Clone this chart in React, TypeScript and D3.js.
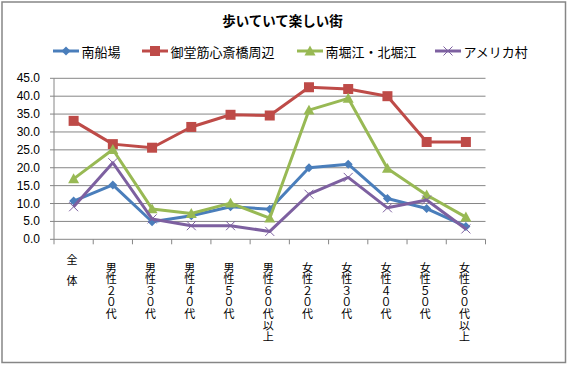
import React from "react";
import * as d3 from "d3";

const categories = ["全体", "男性２０代", "男性３０代", "男性４０代", "男性５０代", "男性６０代以上", "女性２０代", "女性３０代", "女性４０代", "女性５０代", "女性６０代以上"];
const seriesNames = ["南船場", "御堂筋心斎橋周辺", "南堀江・北堀江", "アメリカ村"];
const minamisenba = [10.7, 15.2, 4.9, 6.6, 9.1, 8.4, 20.0, 21.0, 11.4, 8.6, 3.6];
const midosuji = [33.1, 26.6, 25.6, 31.4, 34.8, 34.6, 42.5, 42.0, 40.0, 27.2, 27.2];
const horie = [16.9, 25.1, 8.5, 7.2, 10.1, 5.9, 36.1, 39.4, 19.8, 12.4, 6.2];
const americamura = [9.1, 21.4, 5.7, 3.8, 3.8, 2.2, 12.6, 17.3, 8.8, 11.0, 2.9];
const yTicks = [0, 5, 10, 15, 20, 25, 30, 35, 40, 45];
const colors = ["#4A7EBB", "#BE4B48", "#98B954", "#7D60A0"];
const markers = ["diamond", "square", "triangle", "cross"];

const W = 568, H = 365;
const plot = { left: 54, right: 485.5, top: 78.3, bottom: 239.3 };

function Marker({ type, x, y, color }: { type: string; x: number; y: number; color: string }) {
  if (type === "diamond") {
    const s = 4.5;
    return <path d={`M${x},${y - s}L${x + s},${y}L${x},${y + s}L${x - s},${y}Z`} fill={color} />;
  }
  if (type === "square") {
    const s = 5;
    return <rect x={x - s} y={y - s} width={2 * s} height={2 * s} fill={color} />;
  }
  if (type === "triangle") {
    const s = 5.5;
    return <path d={`M${x},${y - s}L${x + s},${y + s * 0.8}L${x - s},${y + s * 0.8}Z`} fill={color} />;
  }
  const s = 4.5;
  return <path d={`M${x - s},${y - s}L${x + s},${y + s}M${x + s},${y - s}L${x - s},${y + s}`} stroke={color} strokeWidth={1} fill="none" />;
}

export default function App() {
  const data = [minamisenba, midosuji, horie, americamura];
  const x = d3.scaleBand<string>().domain(categories).range([plot.left, plot.right]).padding(0);
  const y = d3.scaleLinear().domain([0, 45]).range([plot.bottom, plot.top]);
  const cx = (c: string) => (x(c) as number) + x.bandwidth() / 2;
  const line = d3.line<number>().x((_, i) => cx(categories[i])).y((d) => y(d));
  const boundaries = d3.range(categories.length + 1).map((i) => plot.left + i * x.bandwidth());

  const legendLine = [53, 142, 297, 435];
  const font = "'Noto Sans CJK JP', sans-serif";

  return (
    <div style={{ position: "absolute", left: 0, top: 0 }}>
      <svg width={W} height={H} style={{ display: "block" }}>
        <rect x={0} y={0} width={W} height={H} fill="#fff" />
        <rect x={2} y={2} width={563.5} height={360.5} fill="none" stroke="#868686" strokeWidth={1.5} />
        <text x={282.5} y={20} textAnchor="middle" dominantBaseline="central" fontFamily={font} fontWeight="bold" fontSize={13.5}>
          歩いていて楽しい街
        </text>
        {seriesNames.map((n, i) => (
          <g key={n}>
            <line x1={legendLine[i]} x2={legendLine[i] + 26} y1={51} y2={51} stroke={colors[i]} strokeWidth={3} />
            <Marker type={markers[i]} x={legendLine[i] + 13} y={51} color={colors[i]} />
            <text x={legendLine[i] + 28.5} y={51} dominantBaseline="central" fontFamily={font} fontSize={13}>
              {n}
            </text>
          </g>
        ))}
        {yTicks.map((t) => (
          <g key={t}>
            {t > 0 && <line x1={plot.left} x2={plot.right} y1={y(t)} y2={y(t)} stroke="#868686" strokeWidth={1} />}
            <line x1={plot.left - 4} x2={plot.left} y1={y(t)} y2={y(t)} stroke="#868686" strokeWidth={1} />
            <text x={40} y={y(t)} textAnchor="end" dominantBaseline="central" fontFamily="'Liberation Sans', Arial, sans-serif" fontSize={12}>
              {t.toFixed(1)}
            </text>
          </g>
        ))}
        <line x1={plot.left} x2={plot.left} y1={plot.top} y2={plot.bottom} stroke="#868686" strokeWidth={1} />
        <line x1={plot.left} x2={plot.right} y1={plot.bottom} y2={plot.bottom} stroke="#868686" strokeWidth={1} />
        {boundaries.map((b, i) => (
          <line key={i} x1={b} x2={b} y1={plot.bottom} y2={plot.bottom + 5} stroke="#868686" strokeWidth={1} />
        ))}
        {categories.map((c) => {
          const chars = Array.from(c);
          const short = chars.length <= 2;
          const top = short ? 259 : 266.5;
          const step = short ? 21 : 11.6;
          return (
            <g key={c}>
              {chars.map((ch, j) => (
                <text key={j} x={cx(c) - 1.5} y={top + j * step} textAnchor="middle" dominantBaseline="central" fontFamily={font} fontSize={11}>
                  {ch}
                </text>
              ))}
            </g>
          );
        })}
        {data.map((vals, i) => (
          <g key={i}>
            <path d={line(vals) || ""} fill="none" stroke={colors[i]} strokeWidth={3} strokeLinejoin="round" />
            {vals.map((v, j) => (
              <Marker key={j} type={markers[i]} x={cx(categories[j])} y={y(v)} color={colors[i]} />
            ))}
          </g>
        ))}
      </svg>
    </div>
  );
}
